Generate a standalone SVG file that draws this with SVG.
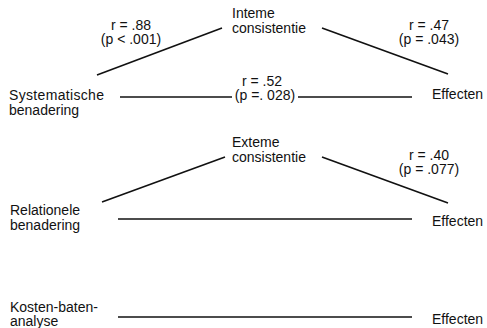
<svg xmlns="http://www.w3.org/2000/svg" width="487" height="328" viewBox="0 0 487 328">
  <style>
    text { font-family: "Liberation Sans", Arial, Helvetica, sans-serif; font-size: 14px; fill: #111; }
    .c { text-anchor: middle; }
    .ln { stroke: #111; stroke-width: 1.6; fill: none; }
  </style>
  <rect width="487" height="328" fill="#fff"/>

  <!-- connectors -->
  <g id="connectors">
    <line class="ln" x1="97" y1="75" x2="222" y2="28"/>
    <line class="ln" x1="322" y1="28" x2="448" y2="74"/>
    <line class="ln" x1="120" y1="97" x2="232" y2="97"/>
    <line class="ln" x1="298" y1="97" x2="412" y2="97"/>
    <line class="ln" x1="102" y1="202" x2="225" y2="157"/>
    <line class="ln" x1="322" y1="157" x2="448" y2="203"/>
    <line class="ln" x1="118" y1="219" x2="412" y2="219"/>
    <line class="ln" x1="118" y1="317" x2="412" y2="317"/>
  </g>

  <!-- connector labels -->
  <g id="labels">
    <text class="c" x="131" y="30">r = .88</text>
    <text class="c" x="131" y="44">(p &lt; .001)</text>
    <text class="c" x="429" y="30">r = .47</text>
    <text class="c" x="429" y="44">(p = .043)</text>
    <text class="c" x="262" y="86">r = .52</text>
    <text class="c" x="265" y="100">(p =. 028)</text>
    <text class="c" x="429" y="160">r = .40</text>
    <text class="c" x="429" y="174">(p = .077)</text>
  </g>

  <!-- nodes -->
  <g id="interne">
    <text x="232" y="18">Inteme</text>
    <text x="232" y="32.5">consistentie</text>
  </g>
  <g id="systematisch">
    <text x="9" y="100" textLength="95">Systematische</text>
    <text x="9" y="114.5">benadering</text>
  </g>
  <g id="effecten1">
    <text x="432" y="98.5">Effecten</text>
  </g>
  <g id="externe">
    <text x="232" y="147">Exteme</text>
    <text x="232" y="161.5">consistentie</text>
  </g>
  <g id="relationeel">
    <text x="10" y="215">Relationele</text>
    <text x="10" y="230">benadering</text>
  </g>
  <g id="effecten2">
    <text x="432" y="226">Effecten</text>
  </g>
  <g id="kba">
    <text x="10" y="312">Kosten-baten-</text>
    <text x="10" y="326">analyse</text>
  </g>
  <g id="effecten3">
    <text x="432" y="324">Effecten</text>
  </g>
</svg>
